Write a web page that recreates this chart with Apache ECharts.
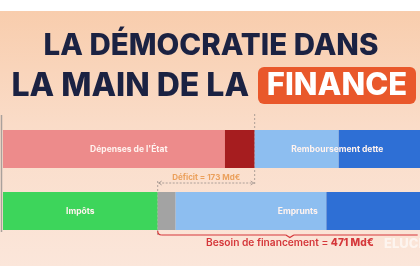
<!DOCTYPE html>
<html><head><meta charset="utf-8">
<script src="https://cdn.jsdelivr.net/npm/echarts@6/dist/echarts.min.js"></script>
<style>html,body{margin:0;padding:0;background:#fff}#c{width:420px;height:280px}</style>
</head><body><div id="c"></div>
<script>
const categories = ['Dépenses', 'Financement'];
const topValues = [396, 53, 150, 148];
const bottomValues = [276, 32, 269, 170];
const topLabels = ["Dépenses de l'État", 'Remboursement dette'];
const bottomLabels = ['Impôts', 'Emprunts'];
const deficitValue = 173;
const besoinValue = 471;
const titleLine1 = 'LA DÉMOCRATIE DANS';
const titleLine2 = 'LA MAIN DE LA';
const titleHighlight = 'FINANCE';

const topColors = ['#ed8b8b', '#a61d1f', '#8dbef0', '#2e6fd5'];
const bottomColors = ['#3dd55b', '#a3a3a3', '#8dbef0', '#2e6fd5'];

const chart = echarts.init(document.getElementById('c'), null, {renderer: 'canvas'});
const FONT = 'Inter, "Open Sans", sans-serif';

const series = [];
for (let i = 0; i < 4; i++) {
  series.push({
    type: 'bar', stack: 'seg', barWidth: 38, barGap: '-100%', silent: true,
    data: [
      {value: topValues[i], itemStyle: {color: topColors[i]}},
      {value: bottomValues[i], itemStyle: {color: bottomColors[i]}}
    ]
  });
}
const lblStyle = {show: true, position: 'inside', color: '#fff3ef', fontSize: 8.5, fontWeight: 700, fontFamily: FONT};
const topSum1 = topValues[0] + topValues[1];
const topSum2 = topValues[2] + topValues[3];
const botSum2 = bottomValues[2] + bottomValues[3];
series.push({type: 'bar', stack: 'lbl', barWidth: 38, barGap: '-100%', silent: true,
  itemStyle: {color: 'rgba(0,0,0,0)'},
  data: [
    {value: topSum1, label: Object.assign({formatter: topLabels[0]}, lblStyle)},
    {value: bottomValues[0], label: Object.assign({formatter: bottomLabels[0]}, lblStyle)}
  ]});
series.push({type: 'bar', stack: 'lbl', barWidth: 38, barGap: '-100%', silent: true,
  itemStyle: {color: 'rgba(0,0,0,0)'},
  data: [
    {value: topSum2, label: Object.assign({formatter: topLabels[1]}, lblStyle)},
    {value: bottomValues[1]}
  ]});
series.push({type: 'bar', stack: 'lbl', barWidth: 38, barGap: '-100%', silent: true,
  itemStyle: {color: 'rgba(0,0,0,0)'},
  data: [
    {value: 0},
    {value: botSum2, label: Object.assign({formatter: bottomLabels[1]}, lblStyle)}
  ]});

chart.setOption({
  animation: false,
  backgroundColor: '#ffffff',
  grid: {left: 3, right: 0, top: 118, height: 124},
  xAxis: {type: 'value', min: 0, max: 744, show: false},
  yAxis: {type: 'category', data: categories, inverse: true, show: false},
  series: series
});

const px = (v, c) => chart.convertToPixel({gridIndex: 0}, [v, c]);
const xDefStart = px(bottomValues[0], 0)[0];
const xDefEnd = px(bottomValues[0] + deficitValue, 0)[0];
const xBesEnd = px(bottomValues[0] + besoinValue, 0)[0];
const xBesMid = (xDefStart + Math.min(xBesEnd, 420)) / 2 + 1;
const yTop = px(0, 0)[1], yBot = px(0, 1)[1];
const topBarBottom = yTop + 19, botBarBottom = yBot + 19;

const dashed = {stroke: '#9a8f8a', lineWidth: 0.8, lineDash: [2, 2]};
const arrowY = topBarBottom + 15;
const braceY = botBarBottom + 5;
const red = '#d5373a';
const braceStyle = {stroke: red, lineWidth: 1.2, fill: null};

const graphic = [
  {type: 'rect', z: -10, silent: true, shape: {x: 0, y: 11, width: 420, height: 255},
   style: {fill: new echarts.graphic.LinearGradient(0, 0, 0, 1, [
     {offset: 0, color: '#f8cdad'}, {offset: 0.45, color: '#fadcc8'}, {offset: 1, color: '#fbe6da'}])}},
  {type: 'text', x: 211, y: 46, style: {text: titleLine1, fill: '#1b2242', font: '800 29.5px ' + FONT, align: 'center', verticalAlign: 'middle'}},
  {type: 'text', x: 249, y: 86, style: {text: titleLine2, fill: '#1b2242', font: '800 32px ' + FONT, align: 'right', verticalAlign: 'middle'}},
  {type: 'rect', shape: {x: 258, y: 67, width: 158, height: 37, r: 6}, style: {fill: '#e9582b'}},
  {type: 'text', x: 337, y: 86, style: {text: titleHighlight, fill: '#ffffff', font: '800 31px ' + FONT, align: 'center', verticalAlign: 'middle'}},
  // left axis line
  {type: 'line', shape: {x1: 1.5, y1: 115, x2: 1.5, y2: 232}, style: {stroke: '#aaa19c', lineWidth: 1.5}},
  // deficit dashed verticals
  {type: 'line', shape: {x1: xDefEnd, y1: 114, x2: xDefEnd, y2: arrowY + 2}, style: dashed},
  {type: 'line', shape: {x1: xDefStart, y1: arrowY - 2, x2: xDefStart, y2: braceY + 2}, style: dashed},
  // arrow
  {type: 'line', shape: {x1: xDefStart + 1, y1: arrowY, x2: xDefEnd - 1, y2: arrowY}, style: {stroke: '#9a8f8a', lineWidth: 0.8, lineDash: [2, 1.5]}},
  {type: 'polyline', shape: {points: [[xDefStart + 4, arrowY - 2], [xDefStart + 1, arrowY], [xDefStart + 4, arrowY + 2]]}, style: {stroke: '#9a8f8a', lineWidth: 0.8, fill: null}},
  {type: 'polyline', shape: {points: [[xDefEnd - 4, arrowY - 2], [xDefEnd - 1, arrowY], [xDefEnd - 4, arrowY + 2]]}, style: {stroke: '#9a8f8a', lineWidth: 0.8, fill: null}},
  {type: 'text', x: (xDefStart + xDefEnd) / 2, y: arrowY - 5, style: {text: 'Déficit = ' + deficitValue + ' Md€', fill: '#eba05c', font: '700 8px ' + FONT, align: 'center', verticalAlign: 'middle'}},
  // brace
  {type: 'bezierCurve', shape: {x1: xDefStart, y1: braceY - 4, x2: xDefStart + 4, y2: braceY, cpx1: xDefStart, cpy1: braceY}, style: braceStyle},
  {type: 'line', shape: {x1: xDefStart + 4, y1: braceY, x2: xBesMid - 4, y2: braceY}, style: braceStyle},
  {type: 'polyline', shape: {points: [[xBesMid - 4, braceY], [xBesMid, braceY + 2.5], [xBesMid + 4, braceY]]}, style: braceStyle},
  {type: 'line', shape: {x1: xBesMid + 4, y1: braceY, x2: xBesEnd - 4, y2: braceY}, style: braceStyle},
  {type: 'text', x: xBesMid, y: braceY + 8, style: {
    text: '{a|Besoin de financement = }{b|' + besoinValue + ' Md€}', align: 'center', verticalAlign: 'middle',
    rich: {a: {fill: red, font: '600 10.2px ' + FONT}, b: {fill: red, font: '800 10.2px ' + FONT}}}},
  {type: 'text', x: 384, y: 244, style: {text: 'ELUCID', fill: 'rgba(255,255,255,0.6)', font: '800 13px ' + FONT, verticalAlign: 'middle'}},
  // white bands
  {type: 'rect', z: 100, silent: true, shape: {x: 0, y: 0, width: 420, height: 11}, style: {fill: '#ffffff'}},
  {type: 'rect', z: 100, silent: true, shape: {x: 0, y: 266, width: 420, height: 14}, style: {fill: '#ffffff'}}
];
chart.setOption({graphic: graphic});
</script></body></html>
